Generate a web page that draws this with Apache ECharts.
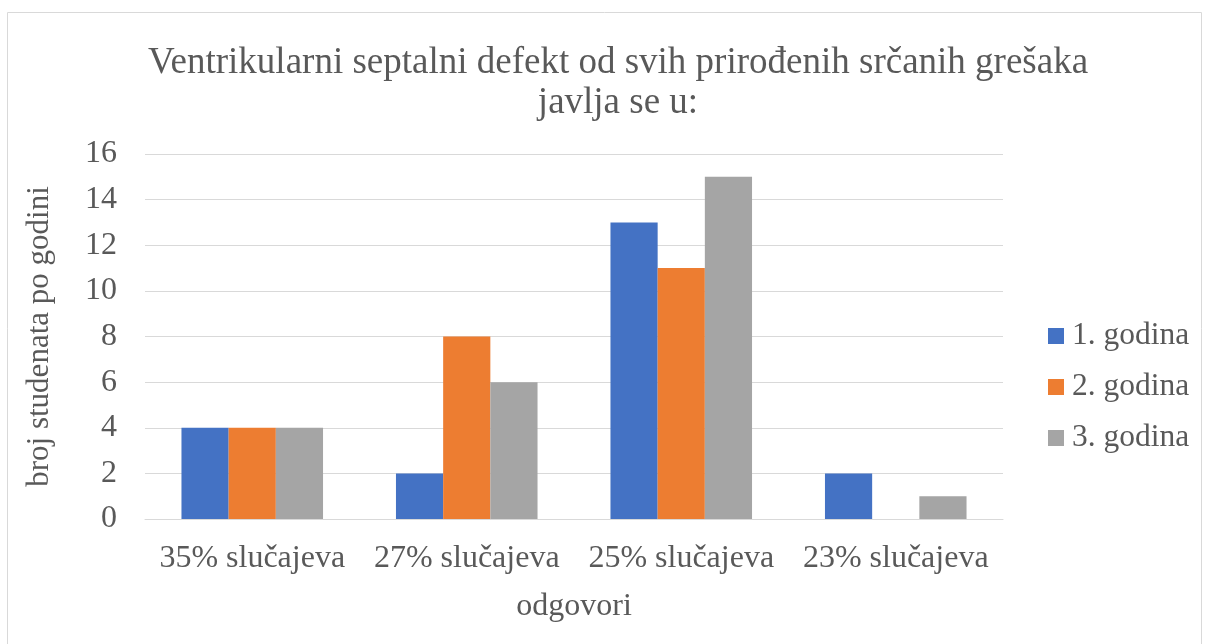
<!DOCTYPE html>
<html>
<head>
<meta charset="utf-8">
<script src="https://cdn.jsdelivr.net/npm/echarts@6/dist/echarts.min.js"></script>
<style>
  html, body { margin: 0; padding: 0; background: #fff; }
  #chart { width: 1209px; height: 644px; }
</style>
</head>
<body>
<div id="chart"></div>
<script>
// podaci
const categories = ['35% slučajeva', '27% slučajeva', '25% slučajeva', '23% slučajeva'];
const seriesNames = ['1. godina', '2. godina', '3. godina'];
const godina1 = [4, 2, 13, 2];
const godina2 = [4, 8, 11, 0];
const godina3 = [4, 6, 15, 1];
const yTicks = [0, 2, 4, 6, 8, 10, 12, 14, 16];

const colors = ['#4472C4', '#ED7D31', '#A5A5A5'];
const font = '"Liberation Serif", "Times New Roman", serif';
const textColor = '#595959';

const myChart = echarts.init(document.getElementById('chart'));

const option = {
  animation: false,
  color: colors,
  textStyle: { fontFamily: font },
  title: {
    text: 'Ventrikularni septalni defekt od svih prirođenih srčanih grešaka\njavlja se u:',
    left: 613,
    textAlign: 'center',
    top: 38,
    textStyle: {
      fontFamily: font,
      fontSize: 37,
      fontWeight: 'normal',
      color: textColor,
      lineHeight: 40
    }
  },
  legend: {
    orient: 'vertical',
    left: 1043,
    top: 315,
    icon: 'rect',
    itemWidth: 16,
    itemHeight: 16,
    itemGap: 19,
    data: seriesNames,
    textStyle: { fontFamily: font, fontSize: 31.5, color: textColor, padding: [0, 0, 0, 3] }
  },
  grid: {
    left: 145,
    right: 206,
    top: 154,
    bottom: 125,
    containLabel: false
  },
  xAxis: {
    type: 'category',
    data: categories,
    name: 'odgovori',
    nameLocation: 'middle',
    nameGap: 72,
    nameTextStyle: { fontFamily: font, fontSize: 32, color: textColor },
    axisLine: { lineStyle: { color: '#D9D9D9', width: 1 } },
    axisTick: { show: false },
    axisLabel: { interval: 0, fontFamily: font, fontSize: 32, color: textColor, margin: 24 }
  },
  yAxis: {
    type: 'value',
    min: yTicks[0],
    max: yTicks[yTicks.length - 1],
    interval: 2,
    name: 'broj studenata po godini',
    nameLocation: 'middle',
    nameGap: 90,
    nameTextStyle: { fontFamily: font, fontSize: 31, color: textColor },
    axisLine: { show: false },
    axisTick: { show: false },
    axisLabel: { fontFamily: font, fontSize: 32, color: textColor, margin: 28 },
    splitLine: { lineStyle: { color: '#D9D9D9', width: 1 } }
  },
  series: [
    { name: seriesNames[0], type: 'bar', data: godina1, barGap: '0%', barCategoryGap: '34%' },
    { name: seriesNames[1], type: 'bar', data: godina2, barGap: '0%', barCategoryGap: '34%' },
    { name: seriesNames[2], type: 'bar', data: godina3, barGap: '0%', barCategoryGap: '34%' }
  ],
  graphic: [{
    type: 'rect',
    shape: { x: 7.5, y: 12.5, width: 1194, height: 700 },
    style: { fill: 'none', stroke: '#D9D9D9', lineWidth: 1 },
    silent: true,
    z: -1
  }]
};

myChart.setOption(option);
</script>
</body>
</html>
